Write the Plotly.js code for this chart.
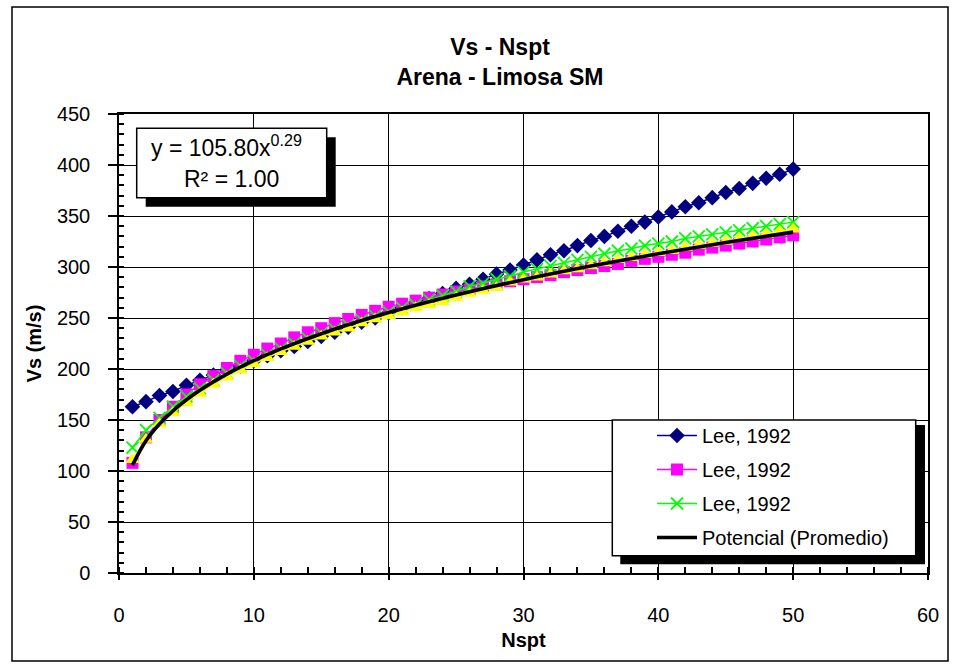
<!DOCTYPE html>
<html><head><meta charset="utf-8">
<script src="https://cdn.plot.ly/plotly-3.0.1.min.js"></script>
<style>html,body{margin:0;padding:0;background:#fff}</style>
</head><body><div id="chart" style="width:953px;height:665px"></div>
<script>
// ---- data ----
const nspt = [1,2,3,4,5,6,7,8,9,10,11,12,13,14,15,16,17,18,19,20,21,22,23,24,25,26,27,28,29,30,31,32,33,34,35,36,37,38,39,40,41,42,43,44,45,46,47,48,49,50];
const leeBlue = [163,168,174,178,184,189,194,199,203,208,213,218,222,227,232,236,241,246,250,255,260,265,269,274,279,283,288,293,297,302,307,312,316,321,326,330,335,340,344,349,354,359,363,368,373,377,382,387,391,396];
const leePink = [108,133,150,163,175,185,193,201,208,214,220,225,231,236,240,245,249,253,257,261,264,267,270,273,276,278,281,283,286,288,290,292,295,297,299,301,303,306,308,310,312,314,317,319,321,323,325,327,329,331];
const leeGreen = [123,140,152,163,173,181,189,196,203,208,214,220,225,230,235,239,243,248,252,256,260,263,268,272,276,281,284,288,291,295,298,301,304,307,310,313,316,318,321,323,325,328,330,332,334,336,338,340,342,344];
const promedio = [111,131,146,157,167,176,185,192,199,205,211,217,222,227,232,236,240,245,249,252,256,260,263,266,270,274,277,280,285,288,290,293,296,298,301,304,307,309,312,314,316,319,321,323,325,328,330,332,335,337];
const trendN = [1,2,3,4,5,6,8,10,12,15,20,25,30,35,40,45,50];
const trendV = [105.8,129.7,146.1,159.0,169.8,179.2,195.0,208.2,219.7,234.6,255.3,272.6,287.6,300.9,313.0,324.0,334.2];
const legendNames = ['Lee, 1992','Lee, 1992','Lee, 1992','Potencial (Promedio)'];
const xTicks = [0,10,20,30,40,50,60];
const yTicks = [0,50,100,150,200,250,300,350,400,450];

const FONT = 'Liberation Sans, Arial, Helvetica, sans-serif';

const traces = [
  {x:nspt, y:leeBlue, name:legendNames[0], mode:'lines+markers', legendgroup:'a',
   line:{color:'#000080', width:1.5}, marker:{symbol:'diamond', size:12, color:'#000080'}},
  {x:nspt, y:leePink, name:legendNames[1], mode:'lines+markers', legendgroup:'b',
   line:{color:'#FF00FF', width:1.5}, marker:{symbol:'square', size:12, color:'#FF00FF'}},
  {x:nspt, y:leeGreen, name:legendNames[2], mode:'lines+markers', legendgroup:'c',
   line:{color:'#00FF00', width:1.5}, marker:{symbol:'x-thin', size:12, color:'#00FF00', line:{color:'#00FF00', width:1.8}}},
  {x:nspt, y:promedio, name:'Promedio', mode:'lines+markers', showlegend:false,
   line:{color:'#FFFF00', width:1.5}, marker:{symbol:'triangle-up', size:13, color:'#FFFF00'}},
  {x:trendN, y:trendV, name:legendNames[3], mode:'lines', legendgroup:'d',
   line:{color:'#000000', width:3.6, shape:'spline'}}
];

function px2x(p){ return (p-119)/809; }
function px2y(p){ return (573-p)/459; }

const layout = {
  width:953, height:665,
  margin:{l:119, r:25, t:114, b:92},
  paper_bgcolor:'#ffffff', plot_bgcolor:'#ffffff',
  font:{family:FONT, color:'#000', size:20},
  showlegend:true,
  title:{text:'Vs - Nspt<br>Arena - Limosa SM', font:{family:FONT, size:23, color:'#000', weight:'bold'},
         x:500/953, xref:'container', xanchor:'center', y:1-55/665, yref:'container', yanchor:'top'},
  xaxis:{range:[0,60], tickvals:xTicks, ticktext:xTicks.map(String), showgrid:true, gridcolor:'#000', gridwidth:1,
         showline:true, linecolor:'#000', linewidth:1.5, mirror:true, zeroline:false,
         ticks:'outside', ticklen:5, tickwidth:1.5, tickcolor:'#000', ticklabelstandoff:18,
         minor:{dtick:2, ticks:'inside', ticklen:6, tickwidth:1.5, tickcolor:'#000', showgrid:false},
         tickfont:{family:FONT, size:20, color:'#000'},
         title:{text:'Nspt', font:{family:FONT, size:20, color:'#000', weight:'bold'}, standoff:8}},
  yaxis:{range:[0,450], tickvals:yTicks, ticktext:yTicks.map(String), showgrid:true, gridcolor:'#000', gridwidth:1,
         showline:true, linecolor:'#000', linewidth:1.5, mirror:true, zeroline:false,
         ticks:'outside', ticklen:9, tickwidth:1.5, tickcolor:'#000', ticklabelstandoff:14,
         minor:{dtick:10, ticks:'inside', ticklen:5, tickwidth:1.5, tickcolor:'#000', showgrid:false},
         tickfont:{family:FONT, size:20, color:'#000'},
         title:{text:'Vs (m/s)', font:{family:FONT, size:20, color:'#000', weight:'bold'}, standoff:10}},
  legend:{x:px2x(652), y:px2y(416), xanchor:'left', yanchor:'top', bgcolor:'rgba(0,0,0,0)', borderwidth:0,
          traceorder:'grouped', tracegroupgap:5, itemwidth:40,
          font:{family:FONT, size:20, color:'#000'}},
  shapes:[
    {type:'rect', xref:'paper', yref:'paper', x0:px2x(12), x1:px2x(948), y0:px2y(661), y1:px2y(7),
     line:{color:'#000', width:1.5}, fillcolor:'rgba(0,0,0,0)', layer:'below'},
    {type:'rect', xref:'paper', yref:'paper', x0:px2x(145.7), x1:px2x(335.7), y0:px2y(206.7), y1:px2y(137.3),
     line:{width:0}, fillcolor:'#000', layer:'above'},
    {type:'rect', xref:'paper', yref:'paper', x0:px2x(136.7), x1:px2x(326.7), y0:px2y(197.7), y1:px2y(128.3),
     line:{color:'#000', width:1.5}, fillcolor:'#fff', layer:'above'},
    {type:'rect', xref:'paper', yref:'paper', x0:px2x(620.3), x1:px2x(925), y0:px2y(564.3), y1:px2y(425),
     line:{width:0}, fillcolor:'#000', layer:'above'},
    {type:'rect', xref:'paper', yref:'paper', x0:px2x(612.3), x1:px2x(915.7), y0:px2y(555.7), y1:px2y(420),
     line:{color:'#000', width:1.5}, fillcolor:'#fff', layer:'above'}
  ],
  annotations:[
    {xref:'paper', yref:'paper', x:px2x(226), y:px2y(146), xanchor:'center', yanchor:'middle', showarrow:false,
     text:'y = 105.80x<sup>0.29</sup>', font:{family:FONT, size:23, color:'#000'}},
    {xref:'paper', yref:'paper', x:px2x(231.7), y:px2y(179), xanchor:'center', yanchor:'middle', showarrow:false,
     text:'R² = 1.00', font:{family:FONT, size:23, color:'#000'}}
  ]
};

Plotly.newPlot('chart', traces, layout, {displayModeBar:false, responsive:false});
</script>
</body></html>
